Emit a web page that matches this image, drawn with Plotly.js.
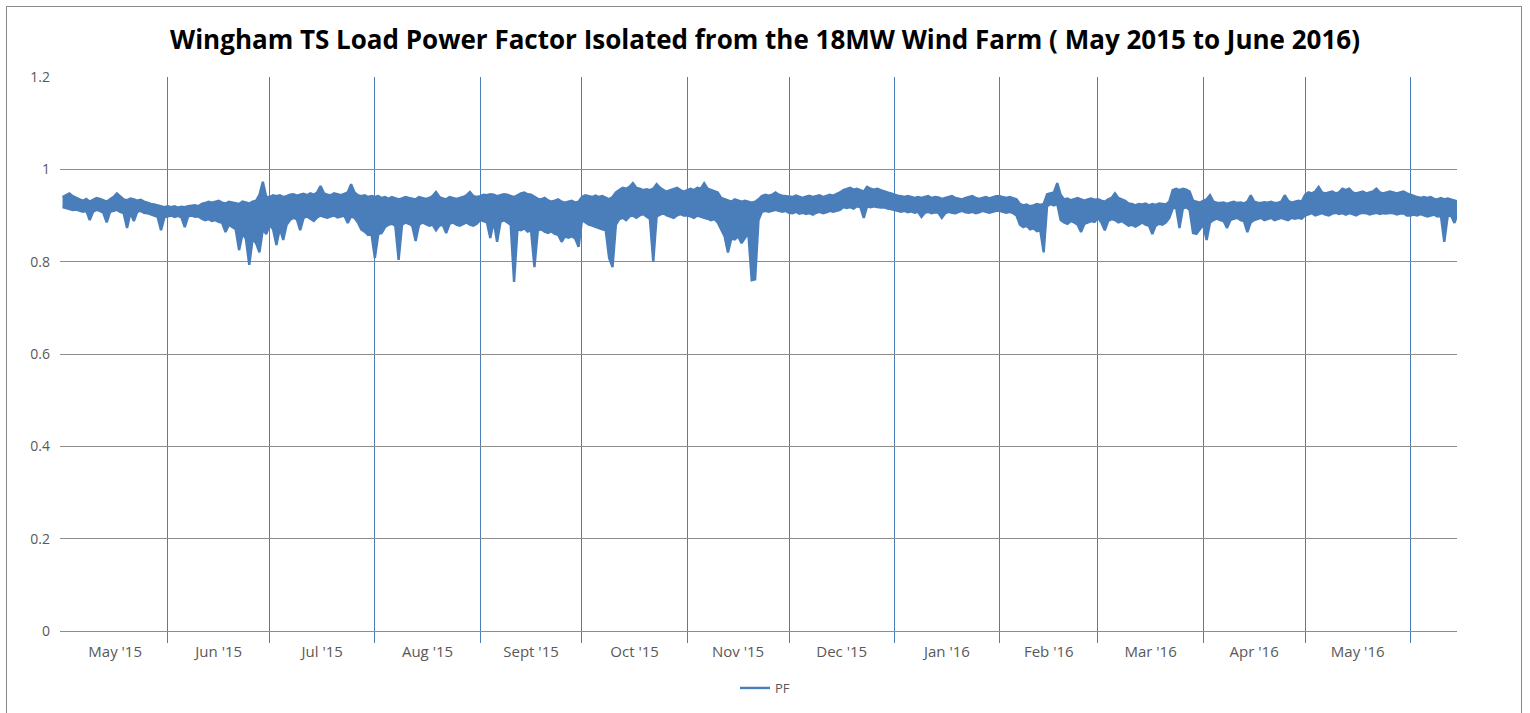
<!DOCTYPE html>
<html>
<head>
<meta charset="utf-8">
<script src="https://cdn.plot.ly/plotly-3.0.1.min.js"></script>
<style>
  html, body { margin: 0; padding: 0; background: #ffffff; }
  #wrap { position: relative; width: 1530px; height: 713px; overflow: hidden; }
  #chart { position: absolute; left: 0; top: 0; width: 1530px; height: 713px; }
  #frame { position: absolute; left: 6px; top: 6px; width: 1514px; height: 720px;
           border: 1px solid #8a8a8a; pointer-events: none; }
</style>
</head>
<body>
<div id="wrap">
  <div id="chart"></div>
  <div id="frame"></div>
</div>
<script>
// ---- Data: daily upper / lower envelope of the hourly power factor ----
// (one value per day, starting 1 May 2015)
const hiMay15 = [0.940, 0.944, 0.948, 0.942, 0.938, 0.935, 0.932, 0.936, 0.930, 0.934, 0.938, 0.936, 0.933, 0.930, 0.935, 0.940, 0.948, 0.942, 0.935, 0.933, 0.937, 0.935, 0.932, 0.934, 0.930, 0.928, 0.925, 0.924, 0.922, 0.920, 0.918];
const loMay15 = [0.918, 0.916, 0.915, 0.912, 0.913, 0.910, 0.908, 0.910, 0.890, 0.908, 0.912, 0.910, 0.906, 0.885, 0.908, 0.910, 0.912, 0.908, 0.905, 0.873, 0.906, 0.888, 0.908, 0.910, 0.906, 0.905, 0.902, 0.900, 0.897, 0.868, 0.896];
const hiJun15 = [0.920, 0.918, 0.920, 0.917, 0.919, 0.918, 0.920, 0.921, 0.922, 0.920, 0.925, 0.927, 0.930, 0.928, 0.930, 0.932, 0.928, 0.926, 0.930, 0.928, 0.926, 0.925, 0.930, 0.928, 0.926, 0.930, 0.932, 0.945, 0.973, 0.940];
const loJun15 = [0.898, 0.900, 0.897, 0.899, 0.896, 0.875, 0.898, 0.900, 0.897, 0.898, 0.893, 0.890, 0.892, 0.888, 0.890, 0.886, 0.884, 0.864, 0.880, 0.875, 0.870, 0.825, 0.860, 0.850, 0.793, 0.850, 0.840, 0.820, 0.870, 0.860];
const hiJul15 = [0.940, 0.944, 0.942, 0.944, 0.940, 0.942, 0.945, 0.946, 0.943, 0.945, 0.947, 0.944, 0.948, 0.945, 0.950, 0.964, 0.948, 0.945, 0.944, 0.948, 0.946, 0.944, 0.947, 0.950, 0.968, 0.950, 0.944, 0.942, 0.944, 0.940, 0.942];
const loJul15 = [0.880, 0.870, 0.836, 0.872, 0.847, 0.880, 0.890, 0.895, 0.892, 0.868, 0.895, 0.898, 0.893, 0.888, 0.896, 0.900, 0.897, 0.895, 0.898, 0.900, 0.896, 0.898, 0.900, 0.884, 0.898, 0.895, 0.885, 0.870, 0.865, 0.858, 0.860];
const hiAug15 = [0.940, 0.942, 0.938, 0.940, 0.936, 0.940, 0.938, 0.935, 0.937, 0.940, 0.938, 0.936, 0.935, 0.940, 0.938, 0.936, 0.938, 0.942, 0.951, 0.940, 0.937, 0.935, 0.940, 0.938, 0.936, 0.938, 0.940, 0.944, 0.951, 0.942, 0.940];
const loAug15 = [0.808, 0.860, 0.862, 0.875, 0.880, 0.882, 0.878, 0.804, 0.880, 0.885, 0.882, 0.878, 0.845, 0.880, 0.885, 0.882, 0.878, 0.880, 0.868, 0.878, 0.880, 0.862, 0.882, 0.885, 0.880, 0.878, 0.882, 0.885, 0.880, 0.878, 0.882];
const hiSep15 = [0.942, 0.945, 0.944, 0.946, 0.945, 0.942, 0.944, 0.946, 0.945, 0.943, 0.940, 0.944, 0.948, 0.950, 0.946, 0.945, 0.940, 0.936, 0.935, 0.938, 0.933, 0.930, 0.932, 0.935, 0.930, 0.928, 0.930, 0.932, 0.928, 0.930];
const loSep15 = [0.890, 0.888, 0.885, 0.851, 0.888, 0.843, 0.886, 0.890, 0.885, 0.880, 0.756, 0.870, 0.868, 0.872, 0.865, 0.868, 0.788, 0.868, 0.870, 0.865, 0.862, 0.866, 0.860, 0.858, 0.843, 0.855, 0.852, 0.855, 0.850, 0.832];
const hiOct15 = [0.940, 0.944, 0.942, 0.940, 0.943, 0.940, 0.942, 0.938, 0.935, 0.940, 0.950, 0.955, 0.960, 0.958, 0.962, 0.970, 0.960, 0.958, 0.955, 0.957, 0.955, 0.958, 0.968, 0.960, 0.955, 0.952, 0.955, 0.958, 0.960, 0.955, 0.952];
const loOct15 = [0.890, 0.885, 0.880, 0.878, 0.875, 0.872, 0.870, 0.868, 0.808, 0.788, 0.880, 0.892, 0.895, 0.890, 0.898, 0.900, 0.895, 0.900, 0.903, 0.898, 0.893, 0.800, 0.898, 0.902, 0.905, 0.900, 0.897, 0.895, 0.900, 0.903, 0.900];
const hiNov15 = [0.955, 0.958, 0.955, 0.960, 0.958, 0.970, 0.958, 0.955, 0.952, 0.950, 0.938, 0.935, 0.932, 0.930, 0.935, 0.933, 0.930, 0.932, 0.930, 0.928, 0.930, 0.935, 0.942, 0.945, 0.943, 0.945, 0.950, 0.945, 0.943, 0.942];
const loNov15 = [0.900, 0.898, 0.895, 0.900, 0.897, 0.895, 0.893, 0.890, 0.892, 0.885, 0.870, 0.855, 0.820, 0.850, 0.848, 0.855, 0.840, 0.850, 0.862, 0.760, 0.762, 0.890, 0.908, 0.910, 0.908, 0.910, 0.912, 0.910, 0.908, 0.910];
const hiDec15 = [0.942, 0.940, 0.943, 0.940, 0.938, 0.941, 0.943, 0.940, 0.942, 0.944, 0.940, 0.942, 0.945, 0.943, 0.946, 0.950, 0.955, 0.958, 0.960, 0.956, 0.958, 0.955, 0.952, 0.962, 0.958, 0.956, 0.958, 0.955, 0.952, 0.950, 0.948];
const loDec15 = [0.906, 0.905, 0.908, 0.904, 0.906, 0.903, 0.905, 0.902, 0.906, 0.908, 0.905, 0.907, 0.910, 0.908, 0.910, 0.912, 0.918, 0.916, 0.918, 0.915, 0.920, 0.918, 0.895, 0.920, 0.918, 0.920, 0.918, 0.917, 0.918, 0.915, 0.914];
const hiJan16 = [0.945, 0.943, 0.942, 0.940, 0.942, 0.940, 0.938, 0.940, 0.938, 0.940, 0.942, 0.938, 0.940, 0.939, 0.936, 0.938, 0.940, 0.942, 0.938, 0.937, 0.935, 0.938, 0.940, 0.942, 0.938, 0.936, 0.938, 0.940, 0.937, 0.940, 0.942];
const loJan16 = [0.912, 0.910, 0.908, 0.910, 0.907, 0.909, 0.906, 0.908, 0.897, 0.906, 0.908, 0.905, 0.907, 0.906, 0.895, 0.905, 0.908, 0.906, 0.905, 0.908, 0.910, 0.907, 0.906, 0.908, 0.905, 0.907, 0.910, 0.908, 0.906, 0.908, 0.910];
const hiFeb16 = [0.942, 0.940, 0.938, 0.940, 0.938, 0.935, 0.925, 0.922, 0.924, 0.920, 0.922, 0.925, 0.923, 0.925, 0.946, 0.948, 0.950, 0.970, 0.945, 0.935, 0.937, 0.933, 0.935, 0.938, 0.935, 0.932, 0.935, 0.937, 0.934];
const loFeb16 = [0.910, 0.908, 0.906, 0.908, 0.905, 0.900, 0.880, 0.875, 0.878, 0.870, 0.872, 0.866, 0.868, 0.820, 0.920, 0.925, 0.922, 0.925, 0.890, 0.885, 0.882, 0.888, 0.885, 0.880, 0.864, 0.882, 0.885, 0.888, 0.886];
const hiMar16 = [0.935, 0.932, 0.930, 0.935, 0.938, 0.948, 0.938, 0.935, 0.932, 0.926, 0.925, 0.922, 0.925, 0.924, 0.926, 0.922, 0.925, 0.923, 0.926, 0.925, 0.924, 0.930, 0.955, 0.958, 0.955, 0.958, 0.956, 0.952, 0.932, 0.930, 0.928];
const loMar16 = [0.895, 0.885, 0.868, 0.888, 0.892, 0.890, 0.885, 0.888, 0.882, 0.878, 0.880, 0.876, 0.880, 0.885, 0.880, 0.878, 0.860, 0.878, 0.882, 0.880, 0.885, 0.895, 0.915, 0.918, 0.873, 0.915, 0.918, 0.912, 0.862, 0.860, 0.870];
const hiApr16 = [0.932, 0.935, 0.944, 0.930, 0.928, 0.927, 0.928, 0.925, 0.928, 0.930, 0.927, 0.928, 0.926, 0.930, 0.944, 0.930, 0.928, 0.927, 0.929, 0.928, 0.930, 0.927, 0.928, 0.930, 0.944, 0.932, 0.928, 0.930, 0.932, 0.930];
const loApr16 = [0.880, 0.847, 0.885, 0.890, 0.893, 0.890, 0.888, 0.873, 0.890, 0.893, 0.895, 0.890, 0.888, 0.864, 0.885, 0.890, 0.893, 0.895, 0.890, 0.892, 0.895, 0.890, 0.893, 0.895, 0.892, 0.890, 0.895, 0.893, 0.895, 0.893];
const hiMay16 = [0.945, 0.950, 0.948, 0.952, 0.962, 0.950, 0.948, 0.950, 0.952, 0.948, 0.950, 0.958, 0.955, 0.958, 0.950, 0.948, 0.950, 0.952, 0.948, 0.950, 0.952, 0.958, 0.950, 0.948, 0.950, 0.952, 0.950, 0.948, 0.950, 0.952, 0.948];
const loMay16 = [0.900, 0.902, 0.905, 0.900, 0.903, 0.905, 0.902, 0.900, 0.904, 0.906, 0.903, 0.905, 0.902, 0.905, 0.903, 0.900, 0.904, 0.906, 0.905, 0.902, 0.904, 0.906, 0.903, 0.905, 0.904, 0.906, 0.905, 0.902, 0.904, 0.905, 0.900];
const hiJun16 = [0.945, 0.942, 0.940, 0.938, 0.940, 0.938, 0.940, 0.936, 0.935, 0.938, 0.935, 0.937, 0.935, 0.932, 0.930, 0.928];
const loJun16 = [0.900, 0.902, 0.900, 0.903, 0.900, 0.898, 0.900, 0.902, 0.898, 0.900, 0.843, 0.898, 0.900, 0.884, 0.905, 0.912];

// Month boundaries (gridlines) and axis labels
const monthStarts = ["2015-06-01", "2015-07-01", "2015-08-01", "2015-09-01", "2015-10-01", "2015-11-01",
                     "2015-12-01", "2016-01-01", "2016-02-01", "2016-03-01", "2016-04-01", "2016-05-01", "2016-06-01"];
const monthMids = ["2015-05-16 12:00", "2015-06-16", "2015-07-16 12:00", "2015-08-16 12:00", "2015-09-16",
                   "2015-10-16 12:00", "2015-11-16", "2015-12-16 12:00", "2016-01-16 12:00", "2016-02-15 12:00",
                   "2016-03-16 12:00", "2016-04-16", "2016-05-16 12:00"];
const monthLabels = ["May '15", "Jun '15", "Jul '15", "Aug '15", "Sept '15", "Oct '15", "Nov '15",
                     "Dec '15", "Jan '16", "Feb '16", "Mar '16", "Apr '16", "May '16"];
const yTicks = [0, 0.2, 0.4, 0.6, 0.8, 1, 1.2];
const yTickText = ["0", "0.2", "0.4", "0.6", "0.8", "1", "1.2"];
const xRange = ["2015-04-30 06:00", "2016-06-14 18:00"];

const pfHigh = [].concat(hiMay15, hiJun15, hiJul15, hiAug15, hiSep15, hiOct15, hiNov15,
                         hiDec15, hiJan16, hiFeb16, hiMar16, hiApr16, hiMay16, hiJun16);
const pfLow = [].concat(loMay15, loJun15, loJul15, loAug15, loSep15, loOct15, loNov15,
                        loDec15, loJan16, loFeb16, loMar16, loApr16, loMay16, loJun16);

function dayString(i) {
  const d = new Date(Date.UTC(2015, 4, 1 + i, 0, 0, 0));
  return d.toISOString().slice(0, 10);
}
const dates = pfHigh.map((_, i) => dayString(i));

const blue = "#4A7EBB";
const tickFontX = { family: "Open Sans, Noto Sans, sans-serif", size: 15, color: "#595959" };
const tickFontY = { family: "Open Sans, Noto Sans, sans-serif", size: 14, color: "#595959" };

const traces = [
  {
    type: "scatter",
    mode: "lines",
    name: "PF",
    x: dates,
    y: pfHigh,
    line: { color: blue, width: 2.4 },
    xaxis: "x",
    yaxis: "y"
  },
  {
    type: "scatter",
    mode: "lines",
    name: "PF low",
    showlegend: false,
    x: dates,
    y: pfLow,
    fill: "tonexty",
    fillcolor: blue,
    line: { color: blue, width: 2.4 },
    xaxis: "x",
    yaxis: "y"
  },
  {
    type: "scatter",
    mode: "lines",
    x: [xRange[0], xRange[1]],
    y: [null, null],
    showlegend: false,
    hoverinfo: "skip",
    xaxis: "x2",
    yaxis: "y"
  }
];

const layout = {
  width: 1530,
  height: 713,
  paper_bgcolor: "#ffffff",
  plot_bgcolor: "#ffffff",
  margin: { l: 60, r: 73, t: 77, b: 82 },
  title: {
    text: "<b>Wingham TS Load Power Factor Isolated from the 18MW Wind Farm ( May 2015 to June 2016)</b>",
    font: { family: "Open Sans, Noto Sans, sans-serif", size: 26, color: "#000000" },
    x: 0.5, xref: "container", xanchor: "center",
    y: 1 - 40 / 713, yref: "container", yanchor: "middle"
  },
  xaxis: {
    type: "date",
    range: xRange,
    tickmode: "array",
    tickvals: monthStarts,
    ticktext: monthStarts.map(() => ""),
    showgrid: true,
    gridcolor: "#4A7EBB",
    gridwidth: 1,
    ticks: "outside",
    ticklen: 11,
    tickcolor: "#4A7EBB",
    tickwidth: 1,
    showline: true,
    linecolor: "#8c8c8c",
    linewidth: 1.3,
    zeroline: false,
    fixedrange: true
  },
  xaxis2: {
    type: "date",
    overlaying: "x",
    anchor: "y",
    side: "bottom",
    range: xRange,
    tickmode: "array",
    tickvals: monthMids,
    ticktext: monthLabels,
    showgrid: false,
    showline: false,
    ticks: "",
    zeroline: false,
    tickfont: tickFontX,
    ticklabelstandoff: 10,
    fixedrange: true
  },
  yaxis: {
    range: [0, 1.2],
    tickmode: "array",
    tickvals: yTicks,
    ticktext: yTickText,
    showgrid: true,
    gridcolor: "#8c8c8c",
    gridwidth: 1,
    zeroline: false,
    showline: false,
    ticks: "",
    tickfont: tickFontY,
    ticklabelstandoff: 9,
    fixedrange: true
  },
  showlegend: true,
  legend: {
    orientation: "h",
    x: 0.5, xref: "container", xanchor: "center",
    y: 1 - 688 / 713, yref: "container", yanchor: "middle",
    font: { family: "Open Sans, Noto Sans, sans-serif", size: 13, color: "#595959" },
    itemwidth: 30,
    bgcolor: "rgba(0,0,0,0)"
  },
  hovermode: false
};

Plotly.newPlot("chart", traces, layout, { displayModeBar: false, staticPlot: true });
</script>
</body>
</html>
